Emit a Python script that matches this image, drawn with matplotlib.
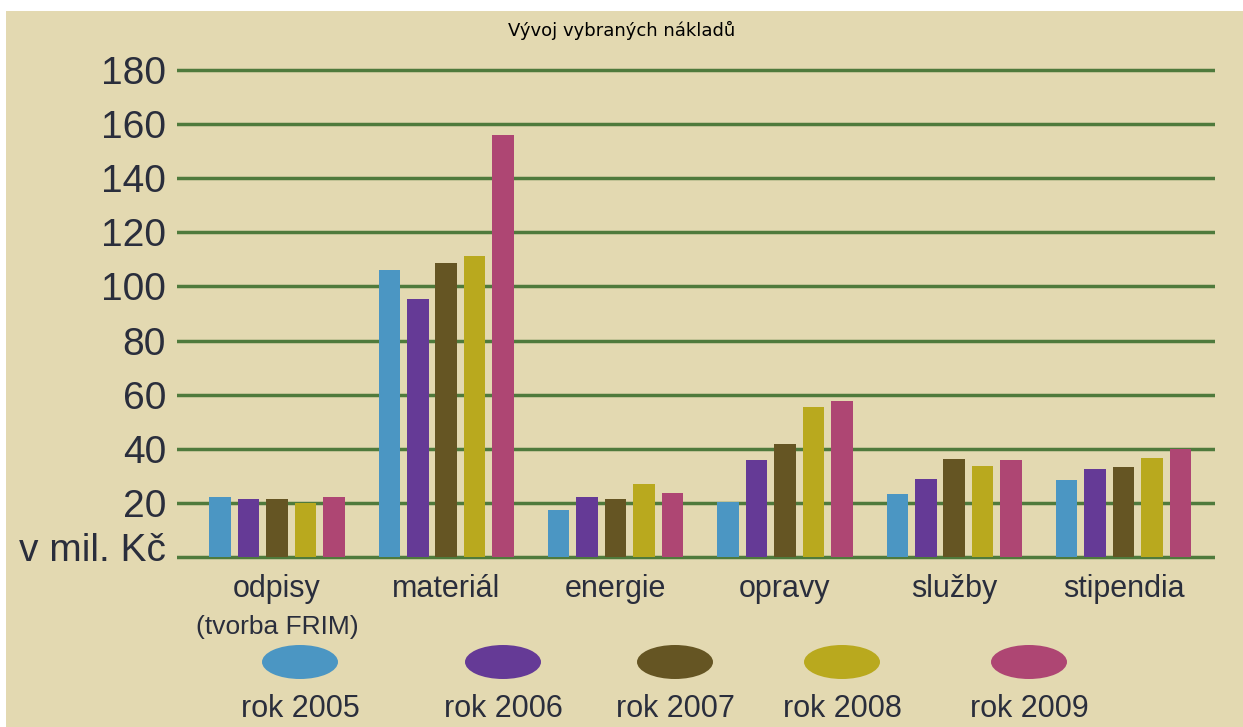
import matplotlib
matplotlib.use('Agg')
import matplotlib.pyplot as plt
import matplotlib.transforms as mtransforms
from matplotlib.patches import Ellipse, Rectangle
import numpy as np

# *** Data *** #
categories = ['odpisy', 'materiál', 'energie', 'opravy', 'služby', 'stipendia']
sub_label = '(tvorba FRIM)'
years = ['rok 2005', 'rok 2006', 'rok 2007', 'rok 2008', 'rok 2009']
v2005 = [22.2, 106.0, 17.4, 20.4, 23.2, 28.6]
v2006 = [21.3, 95.2, 22.2, 35.9, 29.0, 32.6]
v2007 = [21.6, 108.6, 21.6, 41.8, 36.3, 33.3]
v2008 = [19.8, 111.2, 27.1, 55.3, 33.5, 36.6]
v2009 = [22.2, 155.8, 23.7, 57.7, 35.7, 40.0]
yticks = [0, 20, 40, 60, 80, 100, 120, 140, 160, 180]
ytick_labels = ['v mil. Kč', '20', '40', '60', '80', '100', '120', '140', '160', '180']

# *** Styles *** #
colors = ['#4b96c3', '#653a96', '#655523', '#b9a91e', '#ae4673']
bg = '#e3d9b1'
grid_col = '#4f7a3c'
txt_col = '#2a2e3c'
regular = ['Liberation Sans', 'DejaVu Sans']

fig = plt.figure(figsize=(12.43, 7.27), dpi=100, facecolor='white')
# beige panel with thin white border on top/left
fig.patches.append(Rectangle((6 / 1243, 0), 1, 1 - 11 / 727, transform=fig.transFigure,
                             facecolor=bg, edgecolor='none', zorder=-10))

# axes box: y from -1 to 181.8 so the 0 and 180 grid lines are not clipped
ax = fig.add_axes([177 / 1243, 1 - 559.7 / 727, 1038 / 1243, (559.7 - 65.1) / 727])
ax.set_facecolor('none')

series = [v2005, v2006, v2007, v2008, v2009]
x = np.arange(len(categories))
step = 0.168
width = 0.127
for i, vals in enumerate(series):
    ax.bar(x + (i - 2) * step, vals, width=width, color=colors[i], zorder=3)

ax.set_xlim(-0.59, 5.54)
ax.set_ylim(-1, 181.8)
ax.set_yticks(yticks)
ax.set_yticklabels(ytick_labels, family=regular, fontsize=28, color=txt_col)
ax.set_xticks(x)
ax.set_xticklabels(categories, family=regular, fontsize=22, color=txt_col)
ax.tick_params(axis='both', length=0)
ax.tick_params(axis='y', pad=8)
ax.tick_params(axis='x', pad=10)
for s in ax.spines.values():
    s.set_visible(False)
ax.yaxis.grid(True, color=grid_col, linewidth=2.5, zorder=1)
ax.set_axisbelow(True)

# unit label sits a little above the zero line
fig.canvas.draw()
lab0 = ax.get_yticklabels()[0]
lab0.set_transform(lab0.get_transform() + mtransforms.ScaledTranslation(0, 10 / 100, fig.dpi_scale_trans))

# sub label under first category
ax.annotate(sub_label, xy=(x[0], 0), xycoords=('data', 'axes fraction'),
            xytext=(0, -40), textcoords='offset points', ha='center', va='top',
            family=regular, fontsize=19, color=txt_col)

# title
fig.text(0.5, 1 - 30 / 727, 'Vývoj vybraných nákladů', ha='center', va='center',
         fontsize=13, color='black', family='DejaVu Sans')

# legend: ellipses with year labels below
leg_x = [300, 503, 675, 842, 1029]
lax = fig.add_axes([0, 0, 1, 1], facecolor='none')
lax.set_xlim(0, 1243)
lax.set_ylim(727, 0)
lax.axis('off')
for i, lab in enumerate(years):
    lax.add_patch(Ellipse((leg_x[i], 662), 76, 34, facecolor=colors[i], edgecolor='none'))
    lax.text(leg_x[i], 709, lab, ha='center', va='center', family=regular,
             fontsize=22, color=txt_col)

fig.savefig('out.png', dpi=100, facecolor=fig.get_facecolor())
